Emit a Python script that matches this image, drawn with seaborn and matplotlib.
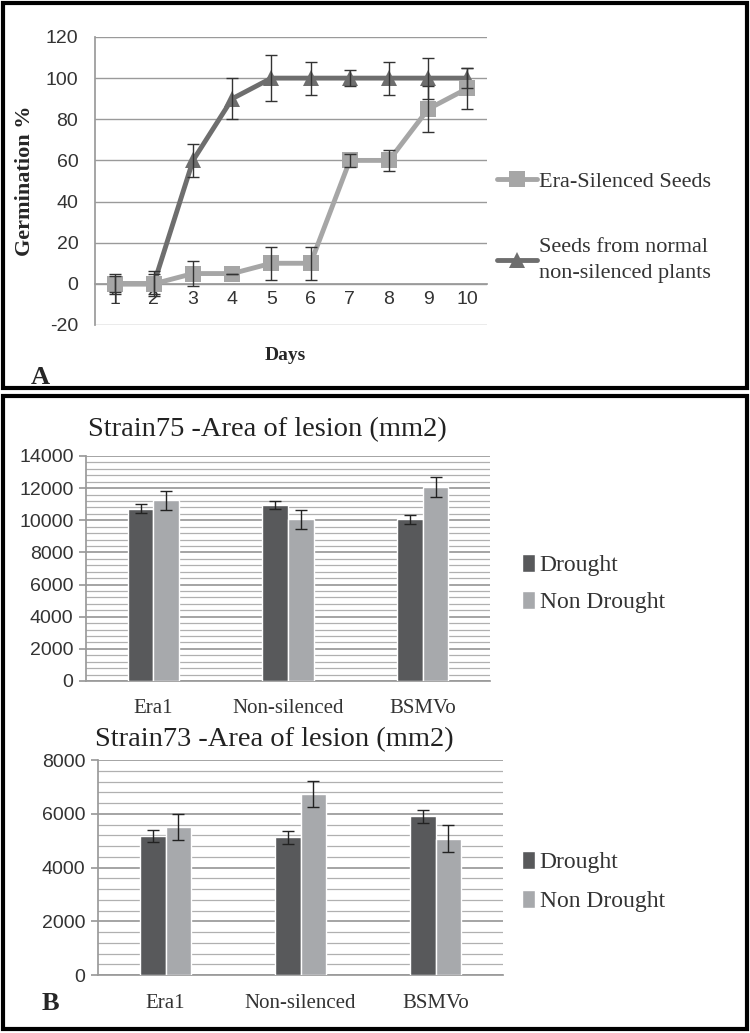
import numpy as np
import pandas as pd
import matplotlib
matplotlib.use("Agg")
import matplotlib.pyplot as plt
from matplotlib.patches import Rectangle
from matplotlib.lines import Line2D
from matplotlib.ticker import MultipleLocator
import seaborn as sns

# ---- data: panel A (germination) ----
days = [1, 2, 3, 4, 5, 6, 7, 8, 9, 10]
era_silenced = [0, 0, 5, 5, 10, 10, 60, 60, 85, 95]
era_silenced_err = [4, 5, 6, 0, 8, 8, 3, 5, 11, 10]
normal_seeds = [0, 0, 60, 90, 100, 100, 100, 100, 100, 100]
normal_seeds_err = [5, 6, 8, 10, 11, 8, 4, 8, 10, 5]

# ---- data: panel B (lesion area) ----
genotypes = ["Era1", "Non-silenced", "BSMVo"]
s75_drought = [10700, 10950, 10050]
s75_drought_err = [280, 270, 280]
s75_non_drought = [11250, 10050, 12050]
s75_non_drought_err = [600, 580, 620]
s73_drought = [5170, 5120, 5910]
s73_drought_err = [220, 240, 250]
s73_non_drought = [5500, 6750, 5080]
s73_non_drought_err = [480, 490, 490]

sns.set_theme(style="white")
serif = ["Liberation Serif", "DejaVu Serif"]
sans = ["Liberation Sans", "DejaVu Sans"]
plt.rcParams["font.family"] = sans
plt.rcParams["axes.unicode_minus"] = False

DARK_LINE = "#6e6e6e"
LIGHT_LINE = "#a6a6a6"
DARK_BAR = "#58595b"
LIGHT_BAR = "#a7a9ac"
GRID = "#9a9a9a"

fig = plt.figure(figsize=(7.5, 10.33), dpi=100)

# panel borders
fig.add_artist(Rectangle((0.004, 0.6244), 0.992, 0.3727, transform=fig.transFigure,
                         fill=False, lw=3, ec="black"))
fig.add_artist(Rectangle((0.004, 0.004), 0.992, 0.6127, transform=fig.transFigure,
                         fill=False, lw=3, ec="black"))

# ================= Panel A =================
axA = fig.add_axes([0.1267, 0.6854, 0.5227, 0.2788])
germ = pd.DataFrame({
    "Day": days * 2,
    "Germination": era_silenced + normal_seeds,
    "Series": ["Era-Silenced Seeds"] * len(days) + ["Seeds from normal\nnon-silenced plants"] * len(days),
})
sns.lineplot(data=germ, x="Day", y="Germination", hue="Series", style="Series",
             palette={"Era-Silenced Seeds": LIGHT_LINE, "Seeds from normal\nnon-silenced plants": DARK_LINE},
             markers={"Era-Silenced Seeds": "s", "Seeds from normal\nnon-silenced plants": "^"},
             dashes=False, linewidth=3.5, markersize=12, markeredgewidth=0,
             hue_order=["Seeds from normal\nnon-silenced plants", "Era-Silenced Seeds"],
             legend=False, ax=axA, zorder=3)
axA.errorbar(days, normal_seeds, yerr=normal_seeds_err, fmt="none", ecolor="#333333",
             elinewidth=1, capsize=4, capthick=1, zorder=4)
axA.errorbar(days, era_silenced, yerr=era_silenced_err, fmt="none", ecolor="#333333",
             elinewidth=1, capsize=4, capthick=1, zorder=4)
axA.set_xlim(0.5, 10.5)
axA.set_ylim(-20, 120)
axA.set_yticks(np.arange(-20, 121, 20))
axA.set_xticks(days)
axA.yaxis.grid(True, color=GRID, lw=1)
axA.xaxis.grid(False)
axA.set_axisbelow(True)
for s in ["top", "right"]:
    axA.spines[s].set_visible(False)
axA.spines["left"].set_color(GRID)
axA.spines["bottom"].set_color(GRID)
axA.spines["bottom"].set_position(("data", 0))
axA.tick_params(axis="both", length=0, labelsize=14, labelcolor="#333333")
axA.tick_params(axis="y", pad=12)
axA.tick_params(axis="x", pad=5)
axA.set_xlabel("")
axA.set_ylabel("Germination %", family=serif, fontsize=16, fontweight="bold", labelpad=8)
fig.text(285 / 750, 1 - 355 / 1033, "Days", family=serif, fontsize=14, fontweight="bold",
         ha="center", va="center")
fig.text(40 / 750, 1 - 377 / 1033, "A", family=serif, fontsize=19, fontweight="bold",
         ha="center", va="center")
handlesA = [
    Line2D([], [], color=LIGHT_LINE, lw=3.5, marker="s", markersize=12, markeredgewidth=0),
    Line2D([], [], color=DARK_LINE, lw=3.5, marker="^", markersize=12, markeredgewidth=0),
]
legA = fig.legend(handlesA, ["Era-Silenced Seeds", "Seeds from normal\nnon-silenced plants"],
                  loc="upper left", bbox_to_anchor=(497 / 750, 1 - 171 / 1033), frameon=False,
                  borderpad=0, borderaxespad=0,
                  prop={"family": serif, "size": 16}, handlelength=1.8, handletextpad=0.1,
                  labelspacing=2.1)
for t in legA.get_texts():
    t.set_color("#333333")
    t.set_linespacing(1.45)


# ================= Panel B =================
def lesion_chart(rect, drought, drought_err, non_drought, non_drought_err, title,
                 ymax, title_xy, leg_y, xpad, lsp):
    ax = fig.add_axes(rect)
    df = pd.DataFrame({
        "Genotype": genotypes * 2,
        "Area": drought + non_drought,
        "Treatment": ["Drought"] * 3 + ["Non Drought"] * 3,
    })
    sns.barplot(data=df, x="Genotype", y="Area", hue="Treatment",
                palette={"Drought": DARK_BAR, "Non Drought": LIGHT_BAR},
                width=0.38, gap=0, saturation=1, legend=False, ax=ax, zorder=3)
    for cont, err in zip(ax.containers, [drought_err, non_drought_err]):
        xs = [b.get_x() + b.get_width() / 2 for b in cont]
        hs = [b.get_height() for b in cont]
        ax.errorbar(xs, hs, yerr=err, fmt="none", ecolor="#222222", elinewidth=1,
                    capsize=4, capthick=1, zorder=4)
    ax.set_xlim(-0.5, len(genotypes) - 0.5)
    ax.set_ylim(0, ymax)
    ax.yaxis.set_major_locator(MultipleLocator(2000))
    ax.yaxis.set_minor_locator(MultipleLocator(400))
    ax.yaxis.grid(True, which="major", color="#8c8c8c", lw=1.1)
    ax.yaxis.grid(True, which="minor", color="#b0b0b0", lw=0.9)
    ax.set_axisbelow(True)
    for s in ["top", "right"]:
        ax.spines[s].set_visible(False)
    ax.spines["left"].set_color(GRID)
    ax.spines["bottom"].set_color(GRID)
    ax.tick_params(axis="y", which="major", length=5, color=GRID, labelsize=14,
                   labelcolor="#333333", left=True, pad=4)
    ax.tick_params(axis="y", which="minor", length=0)
    ax.tick_params(axis="x", length=0, pad=xpad)
    ax.set_xticks(range(len(genotypes)))
    ax.set_xticklabels(genotypes, family=serif, fontsize=15, color="#333333")
    ax.set_xlabel("")
    ax.set_ylabel("")
    fig.text(title_xy[0] / 750, 1 - title_xy[1] / 1033, title, family=serif, fontsize=20.5,
             ha="left", va="center", color="#222222")
    handles = [Rectangle((0, 0), 1, 1, fc=DARK_BAR), Rectangle((0, 0), 1, 1, fc=LIGHT_BAR)]
    leg = fig.legend(handles, ["Drought", "Non Drought"], loc="upper left",
                     bbox_to_anchor=(522 / 750, 1 - leg_y / 1033), frameon=False,
                     borderpad=0, borderaxespad=0,
                     prop={"family": serif, "size": 17}, handlelength=0.55, handleheight=0.8,
                     handletextpad=0.2, labelspacing=lsp)
    for t in leg.get_texts():
        t.set_color("#333333")
    return ax


lesion_chart([0.1147, 0.3408, 0.5387, 0.2178], s75_drought, s75_drought_err,
             s75_non_drought, s75_non_drought_err, "Strain75 -Area of lesion (mm2)",
             14000, (88, 430), 554, 13, 0.62)
lesion_chart([0.1307, 0.0561, 0.54, 0.2081], s73_drought, s73_drought_err,
             s73_non_drought, s73_non_drought_err, "Strain73 -Area of lesion (mm2)",
             8000, (95, 740), 851, 14, 0.7)
fig.text(50 / 750, 1 - 1003 / 1033, "B", family=serif, fontsize=19, fontweight="bold",
         ha="center", va="center")

fig.savefig("out.png", dpi=100)
